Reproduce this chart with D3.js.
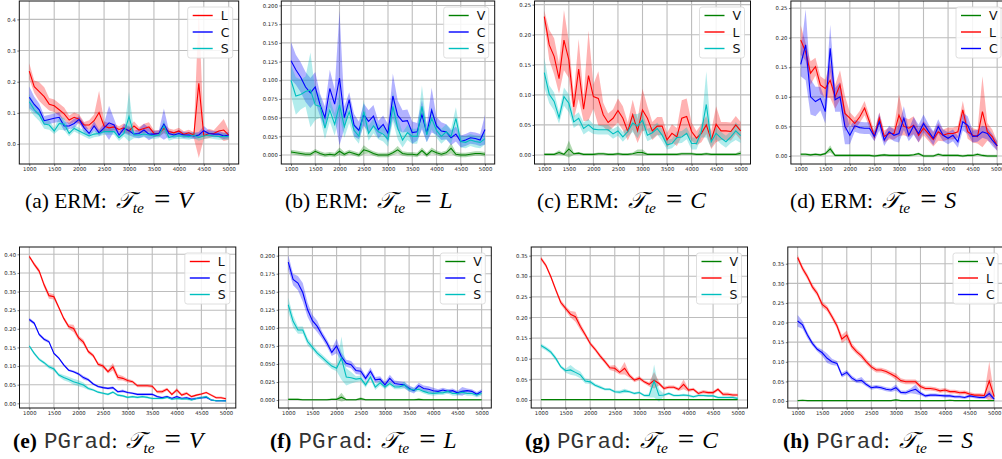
<!DOCTYPE html>
<html>
<head>
<meta charset="utf-8">
<script src="https://cdn.jsdelivr.net/npm/d3@7"></script>
<style>
  body { margin: 0; background: #fff; }
  svg { display: block; }
</style>
</head>
<body>
<svg width="1002" height="459"></svg>
<script>
"use strict";

// number of training samples (x axis), one entry per evaluation
const sizes = [1000, 1100, 1200, 1300, 1400, 1500, 1600, 1700, 1800, 1900, 2000, 2100, 2200, 2300, 2400, 2500, 2600, 2700, 2800, 2900,
    3000, 3100, 3200, 3300, 3400, 3500, 3600, 3700, 3800, 3900, 4000, 4100, 4200, 4300, 4400, 4500, 4600, 4700, 4800, 4900, 5000];
const xTicks = [1000, 1500, 2000, 2500, 3000, 3500, 4000, 4500, 5000];

// (a) ERM, test domain V
const aL = [0.234,0.184,0.168,0.152,0.128,0.123,0.110,0.097,0.077,0.086, 0.080,0.061,0.061,0.075,0.101,0.058,0.052,0.055,0.047,0.052,
    0.042,0.058,0.045,0.050,0.055,0.034,0.034,0.050,0.040,0.036, 0.042,0.031,0.036,0.029,0.195,0.026,0.034,0.034,0.042,0.045,0.029];
const aLsd = [0.025,0.02,0.03,0.03,0.02,0.02,0.02,0.02,0.015,0.015, 0.015,0.01,0.015,0.02,0.07,0.015,0.015,0.01,0.01,0.015,
    0.01,0.015,0.01,0.015,0.015,0.01,0.01,0.015,0.01,0.01, 0.01,0.01,0.01,0.01,0.24,0.01,0.015,0.01,0.02,0.035,0.015];
const aC = [0.150,0.127,0.110,0.075,0.079,0.083,0.086,0.058,0.058,0.066, 0.079,0.052,0.034,0.058,0.036,0.052,0.068,0.061,0.029,0.050,
    0.043,0.032,0.034,0.045,0.032,0.032,0.034,0.064,0.034,0.029, 0.034,0.029,0.029,0.026,0.029,0.043,0.034,0.032,0.032,0.026,0.029];
const aCsd = [0.035,0.025,0.02,0.015,0.015,0.015,0.015,0.015,0.01,0.015, 0.01,0.015,0.01,0.015,0.01,0.015,0.055,0.02,0.01,0.015,
    0.015,0.01,0.015,0.02,0.02,0.01,0.01,0.05,0.01,0.01, 0.01,0.01,0.01,0.01,0.01,0.015,0.01,0.01,0.01,0.01,0.01];
const aS = [0.136,0.110,0.094,0.064,0.061,0.042,0.066,0.064,0.034,0.050, 0.042,0.034,0.026,0.032,0.034,0.040,0.040,0.040,0.020,0.034,
    0.088,0.029,0.029,0.032,0.029,0.026,0.029,0.058,0.021,0.026, 0.026,0.026,0.024,0.029,0.021,0.026,0.029,0.026,0.024,0.024,0.024];
const aSsd = [0.025,0.02,0.02,0.015,0.015,0.01,0.02,0.02,0.01,0.01, 0.01,0.01,0.01,0.01,0.01,0.01,0.01,0.01,0.01,0.01,
    0.08,0.01,0.01,0.01,0.01,0.01,0.01,0.02,0.01,0.01, 0.01,0.01,0.01,0.01,0.01,0.01,0.01,0.01,0.01,0.01,0.01];

// (b) ERM, test domain L
const bV = [0.004,0.003,0.002,0.001,0.001,0.005,0.002,0.000,0.001,0.000, 0.005,0.001,0.004,0.002,0.000,0.007,0.005,0.002,0.000,0.000,
    0.000,0.003,0.007,0.002,0.001,0.001,0.000,0.006,0.000,0.006, 0.003,0.001,0.003,0.009,0.001,0.000,0.000,0.001,0.002,0.002,0.001];
const bVsd = [0.003,0.003,0.003,0.003,0.003,0.003,0.003,0.003,0.003,0.003, 0.005,0.003,0.003,0.003,0.003,0.006,0.003,0.003,0.003,0.003,
    0.003,0.003,0.005,0.003,0.003,0.003,0.003,0.004,0.003,0.004, 0.003,0.003,0.003,0.007,0.003,0.003,0.003,0.003,0.003,0.003,0.003];
const bC = [0.126,0.114,0.104,0.091,0.083,0.091,0.067,0.050,0.089,0.068, 0.103,0.050,0.074,0.040,0.033,0.054,0.045,0.052,0.034,0.041,
    0.029,0.079,0.053,0.045,0.046,0.030,0.031,0.054,0.029,0.060, 0.039,0.032,0.031,0.023,0.028,0.018,0.020,0.023,0.022,0.020,0.034];
const bCsd = [0.025,0.02,0.02,0.02,0.02,0.02,0.015,0.015,0.025,0.02, 0.09,0.015,0.01,0.015,0.012,0.015,0.015,0.015,0.012,0.012,
    0.012,0.03,0.02,0.015,0.015,0.015,0.012,0.02,0.012,0.03, 0.012,0.012,0.01,0.01,0.01,0.008,0.008,0.008,0.008,0.008,0.02];
const bS = [0.100,0.079,0.081,0.085,0.087,0.067,0.065,0.036,0.060,0.041, 0.067,0.038,0.058,0.033,0.025,0.058,0.029,0.039,0.031,0.028,
    0.021,0.065,0.036,0.020,0.030,0.025,0.025,0.065,0.027,0.049, 0.033,0.025,0.031,0.025,0.049,0.018,0.017,0.020,0.018,0.017,0.022];
const bSsd = [0.02,0.025,0.02,0.02,0.05,0.02,0.015,0.015,0.015,0.015, 0.015,0.015,0.015,0.01,0.01,0.015,0.01,0.01,0.01,0.01,
    0.01,0.02,0.015,0.01,0.01,0.01,0.01,0.028,0.01,0.015, 0.01,0.01,0.01,0.01,0.015,0.008,0.008,0.008,0.008,0.008,0.008];

// (c) ERM, test domain C
const cV = [0.001,0.001,0.001,0.004,0.001,0.010,0.002,0.003,0.001,0.001, 0.001,0.002,0.002,0.001,0.001,0.002,0.001,0.001,0.002,0.004,
    0.004,0.001,0.001,0.001,0.001,0.001,0.001,0.001,0.002,0.002, 0.002,0.001,0.001,0.002,0.001,0.001,0.001,0.001,0.001,0.001,0.003];
const cVsd = [0.002,0.002,0.002,0.004,0.002,0.014,0.002,0.002,0.002,0.002, 0.002,0.002,0.002,0.002,0.002,0.002,0.002,0.002,0.002,0.005,
    0.005,0.002,0.002,0.002,0.002,0.002,0.002,0.002,0.002,0.002, 0.002,0.002,0.002,0.002,0.002,0.002,0.002,0.002,0.002,0.002,0.004];
const cL = [0.230,0.183,0.164,0.127,0.191,0.158,0.080,0.143,0.076,0.132, 0.097,0.094,0.067,0.054,0.061,0.074,0.061,0.039,0.067,0.040,
    0.075,0.061,0.040,0.048,0.048,0.025,0.036,0.030,0.061,0.064, 0.039,0.028,0.036,0.050,0.025,0.051,0.040,0.040,0.039,0.050,0.040];
const cLsd = [0.01,0.025,0.03,0.025,0.05,0.03,0.02,0.05,0.02,0.075, 0.02,0.045,0.02,0.015,0.015,0.02,0.02,0.015,0.025,0.02,
    0.035,0.02,0.015,0.015,0.015,0.012,0.015,0.015,0.03,0.03, 0.015,0.012,0.015,0.015,0.015,0.03,0.015,0.015,0.015,0.015,0.015];
const cS = [0.137,0.101,0.089,0.062,0.097,0.086,0.055,0.061,0.044,0.050, 0.043,0.042,0.042,0.042,0.035,0.040,0.030,0.039,0.053,0.048,
    0.058,0.033,0.037,0.044,0.033,0.017,0.019,0.029,0.030,0.036, 0.019,0.019,0.039,0.084,0.022,0.036,0.028,0.022,0.030,0.040,0.032];
const cSsd = [0.025,0.015,0.015,0.01,0.015,0.015,0.01,0.01,0.01,0.01, 0.008,0.008,0.008,0.008,0.008,0.008,0.008,0.008,0.015,0.02,
    0.015,0.01,0.01,0.01,0.01,0.008,0.008,0.01,0.01,0.01, 0.01,0.01,0.01,0.055,0.01,0.01,0.01,0.01,0.01,0.015,0.012];

// (d) ERM, test domain S
const dV = [0.003,0.003,0.002,0.003,0.002,0.004,0.012,0.001,0.001,0.001, 0.001,0.001,0.001,0.001,0.001,0.000,0.001,0.002,0.001,0.001,
    0.001,0.001,0.001,0.002,0.004,0.000,0.000,0.000,0.003,0.001, 0.001,0.001,0.001,0.000,0.001,0.001,0.003,0.001,0.000,0.000,0.000];
const dVsd = [0.002,0.002,0.002,0.002,0.002,0.002,0.006,0.002,0.002,0.002, 0.002,0.002,0.002,0.002,0.002,0.002,0.002,0.002,0.002,0.002,
    0.002,0.002,0.002,0.002,0.002,0.002,0.002,0.002,0.002,0.002, 0.002,0.002,0.002,0.002,0.002,0.002,0.002,0.002,0.002,0.002,0.002];
const dL = [0.196,0.176,0.140,0.151,0.120,0.114,0.128,0.100,0.120,0.072, 0.064,0.055,0.066,0.081,0.058,0.033,0.064,0.033,0.038,0.038,
    0.069,0.050,0.047,0.052,0.035,0.047,0.038,0.028,0.041,0.035, 0.038,0.038,0.041,0.078,0.041,0.035,0.033,0.075,0.041,0.033,0.017];
const dLsd = [0.025,0.015,0.02,0.015,0.015,0.015,0.03,0.02,0.025,0.03, 0.01,0.01,0.01,0.012,0.01,0.008,0.01,0.01,0.01,0.01,
    0.035,0.015,0.015,0.015,0.012,0.012,0.012,0.012,0.015,0.01, 0.01,0.01,0.01,0.015,0.012,0.012,0.012,0.06,0.015,0.012,0.008];
const dC = [0.155,0.188,0.100,0.092,0.097,0.075,0.182,0.095,0.100,0.050, 0.035,0.051,0.048,0.047,0.047,0.033,0.058,0.027,0.041,0.035,
    0.038,0.064,0.035,0.051,0.038,0.055,0.042,0.030,0.050,0.035, 0.030,0.035,0.024,0.058,0.052,0.033,0.034,0.041,0.038,0.027,0.017];
const dCsd = [0.02,0.06,0.03,0.025,0.02,0.02,0.04,0.02,0.025,0.03, 0.015,0.01,0.01,0.01,0.01,0.008,0.015,0.01,0.01,0.01,
    0.015,0.02,0.01,0.015,0.015,0.015,0.012,0.012,0.012,0.01, 0.01,0.01,0.01,0.015,0.015,0.01,0.01,0.01,0.01,0.01,0.008];

// (e) PGrad, test domain V
const eL = [0.394,0.373,0.355,0.318,0.289,0.286,0.257,0.228,0.206,0.201, 0.176,0.164,0.139,0.128,0.105,0.100,0.085,0.098,0.070,0.067,
    0.061,0.058,0.047,0.047,0.047,0.046,0.031,0.031,0.038,0.024, 0.036,0.022,0.027,0.018,0.022,0.025,0.029,0.022,0.015,0.015,0.012];
const eLsd = [0.004,0.005,0.006,0.007,0.008,0.007,0.005,0.005,0.006,0.01, 0.006,0.007,0.005,0.005,0.005,0.005,0.005,0.01,0.008,0.006,
    0.005,0.004,0.004,0.004,0.004,0.004,0.004,0.005,0.004,0.004, 0.005,0.004,0.004,0.003,0.003,0.003,0.003,0.003,0.003,0.003,0.003];
const eC = [0.225,0.215,0.185,0.172,0.165,0.134,0.121,0.103,0.089,0.085, 0.079,0.069,0.063,0.052,0.045,0.042,0.040,0.042,0.031,0.033,
    0.029,0.027,0.024,0.024,0.024,0.024,0.018,0.015,0.018,0.013, 0.018,0.013,0.015,0.011,0.013,0.015,0.016,0.009,0.007,0.007,0.007];
const eCsd = [0.005,0.004,0.004,0.004,0.004,0.003,0.003,0.003,0.003,0.003, 0.004,0.005,0.004,0.003,0.003,0.003,0.003,0.004,0.003,0.004,
    0.003,0.003,0.003,0.003,0.003,0.003,0.003,0.003,0.003,0.003, 0.003,0.003,0.003,0.003,0.003,0.003,0.003,0.002,0.002,0.002,0.002];
const eS = [0.154,0.134,0.118,0.109,0.098,0.092,0.076,0.069,0.064,0.058, 0.054,0.049,0.040,0.036,0.030,0.027,0.024,0.030,0.022,0.020,
    0.016,0.018,0.016,0.018,0.016,0.013,0.013,0.013,0.016,0.011, 0.013,0.012,0.012,0.009,0.013,0.015,0.018,0.009,0.007,0.007,0.006];
const eSsd = [0.004,0.004,0.004,0.004,0.005,0.005,0.005,0.007,0.007,0.008, 0.008,0.007,0.004,0.003,0.003,0.003,0.003,0.003,0.003,0.003,
    0.003,0.003,0.003,0.003,0.003,0.003,0.003,0.003,0.003,0.003, 0.003,0.003,0.003,0.003,0.003,0.003,0.003,0.002,0.002,0.002,0.002];

// (f) PGrad, test domain L
const fV = [0.001,0.001,0.001,0.0005,0.0005,0.0005,0.0005,0.0005,0.0005,0.001, 0.001,0.004,0.0005,0.0005,0.0005,0.002,0.0005,0.0005,0.0005,0.0005,
    0.0005,0.0005,0.0005,0.0005,0.0005,0.0005,0.0005,0.001,0.0005,0.0005, 0.0005,0.0005,0.0005,0.0005,0.0005,0.0005,0.0005,0.0005,0.0005,0.0005,0.0005];
const fVsd = [0.001,0.001,0.001,0.001,0.001,0.001,0.001,0.001,0.001,0.001, 0.001,0.006,0.001,0.001,0.001,0.002,0.001,0.001,0.001,0.001,
    0.001,0.001,0.001,0.001,0.001,0.001,0.001,0.001,0.001,0.001, 0.001,0.001,0.001,0.001,0.001,0.001,0.001,0.001,0.001,0.001,0.001];
const fC = [0.191,0.167,0.162,0.149,0.125,0.110,0.102,0.090,0.079,0.066, 0.075,0.060,0.051,0.049,0.041,0.040,0.030,0.040,0.028,0.029,
    0.021,0.030,0.023,0.022,0.021,0.016,0.013,0.020,0.016,0.015, 0.013,0.012,0.014,0.012,0.013,0.010,0.012,0.013,0.012,0.008,0.012];
const fCsd = [0.01,0.008,0.01,0.013,0.01,0.008,0.008,0.005,0.005,0.005, 0.01,0.006,0.005,0.005,0.005,0.005,0.004,0.005,0.004,0.004,
    0.004,0.005,0.004,0.004,0.004,0.004,0.004,0.004,0.004,0.004, 0.004,0.003,0.003,0.003,0.003,0.003,0.006,0.003,0.003,0.003,0.003];
const fS = [0.132,0.109,0.097,0.097,0.081,0.073,0.065,0.059,0.053,0.047, 0.044,0.058,0.032,0.031,0.029,0.030,0.021,0.032,0.018,0.024,
    0.018,0.023,0.018,0.018,0.021,0.015,0.014,0.015,0.012,0.010, 0.009,0.010,0.010,0.012,0.009,0.009,0.011,0.009,0.009,0.007,0.009];
const fSsd = [0.01,0.008,0.005,0.005,0.005,0.004,0.004,0.004,0.004,0.004, 0.004,0.03,0.012,0.008,0.004,0.004,0.004,0.004,0.004,0.004,
    0.003,0.003,0.003,0.003,0.005,0.003,0.003,0.003,0.003,0.003, 0.003,0.003,0.003,0.003,0.003,0.003,0.003,0.003,0.003,0.003,0.003];

// (g) PGrad, test domain C
const gV = [0.001,0.001,0.001,0.001,0.001,0.001,0.001,0.001,0.001,0.001, 0.001,0.001,0.001,0.001,0.001,0.001,0.001,0.001,0.001,0.001,
    0.001,0.001,0.001,0.001,0.001,0.001,0.001,0.001,0.001,0.001, 0.001,0.001,0.001,0.001,0.001,0.001,0.001,0.001,0.001,0.001,0.001];
const gVsd = [0.001,0.001,0.001,0.001,0.001,0.001,0.001,0.001,0.001,0.001, 0.001,0.001,0.001,0.001,0.001,0.001,0.001,0.001,0.001,0.001,
    0.001,0.001,0.001,0.001,0.001,0.001,0.001,0.001,0.001,0.001, 0.001,0.001,0.001,0.001,0.001,0.001,0.001,0.001,0.001,0.001,0.001];
const gL = [0.343,0.326,0.299,0.267,0.237,0.222,0.208,0.202,0.178,0.158, 0.137,0.123,0.107,0.093,0.078,0.077,0.067,0.077,0.059,0.048,
    0.053,0.044,0.038,0.048,0.040,0.028,0.031,0.031,0.026,0.038, 0.024,0.026,0.016,0.020,0.018,0.018,0.026,0.014,0.014,0.012,0.012];
const gLsd = [0.005,0.005,0.005,0.006,0.006,0.006,0.008,0.012,0.008,0.006, 0.005,0.005,0.005,0.005,0.005,0.008,0.005,0.015,0.005,0.005,
    0.005,0.004,0.005,0.02,0.005,0.004,0.004,0.004,0.004,0.012, 0.004,0.004,0.004,0.004,0.004,0.004,0.004,0.004,0.004,0.004,0.003];
const gS = [0.132,0.125,0.116,0.101,0.081,0.071,0.073,0.067,0.061,0.046, 0.044,0.036,0.031,0.026,0.026,0.020,0.019,0.022,0.020,0.016,
    0.018,0.011,0.011,0.046,0.011,0.012,0.016,0.011,0.011,0.012, 0.011,0.008,0.011,0.011,0.010,0.010,0.006,0.006,0.006,0.006,0.004];
const gSsd = [0.005,0.005,0.005,0.005,0.004,0.005,0.012,0.008,0.008,0.006, 0.005,0.004,0.004,0.003,0.003,0.003,0.004,0.005,0.003,0.003,
    0.003,0.003,0.005,0.04,0.015,0.003,0.003,0.003,0.003,0.003, 0.003,0.003,0.003,0.003,0.003,0.003,0.003,0.003,0.003,0.003,0.002];

// (h) PGrad, test domain S
const hV = [0.001,0.002,0.001,0.001,0.001,0.001,0.001,0.001,0.001,0.001, 0.001,0.001,0.001,0.001,0.001,0.001,0.001,0.001,0.001,0.001,
    0.003,0.001,0.001,0.001,0.001,0.001,0.001,0.001,0.001,0.001, 0.001,0.002,0.001,0.001,0.001,0.001,0.001,0.001,0.001,0.001,0.001];
const hVsd = [0.001,0.001,0.001,0.001,0.001,0.001,0.001,0.001,0.001,0.001, 0.001,0.001,0.001,0.001,0.001,0.001,0.001,0.001,0.001,0.001,
    0.002,0.001,0.001,0.001,0.001,0.001,0.001,0.001,0.001,0.001, 0.001,0.001,0.001,0.001,0.001,0.001,0.001,0.001,0.001,0.001,0.001];
const hL = [0.366,0.338,0.317,0.291,0.274,0.246,0.236,0.215,0.192,0.158, 0.168,0.140,0.126,0.115,0.100,0.087,0.079,0.079,0.075,0.069,
    0.062,0.052,0.049,0.049,0.049,0.037,0.032,0.032,0.030,0.026, 0.028,0.024,0.024,0.021,0.022,0.018,0.015,0.015,0.014,0.051,0.011];
const hLsd = [0.007,0.007,0.007,0.007,0.007,0.007,0.007,0.007,0.008,0.01, 0.012,0.008,0.007,0.007,0.007,0.006,0.006,0.006,0.006,0.006,
    0.008,0.006,0.006,0.006,0.006,0.006,0.005,0.005,0.005,0.005, 0.005,0.005,0.005,0.005,0.005,0.005,0.005,0.005,0.005,0.05,0.005];
const hC = [0.204,0.194,0.168,0.147,0.132,0.123,0.109,0.100,0.096,0.066, 0.073,0.059,0.051,0.053,0.042,0.034,0.036,0.034,0.030,0.028,
    0.034,0.022,0.021,0.026,0.030,0.020,0.013,0.015,0.015,0.014, 0.013,0.013,0.011,0.011,0.009,0.013,0.011,0.009,0.009,0.019,0.005];
const hCsd = [0.015,0.01,0.008,0.006,0.006,0.008,0.012,0.008,0.006,0.006, 0.006,0.006,0.005,0.008,0.005,0.005,0.005,0.005,0.005,0.005,
    0.008,0.005,0.005,0.006,0.012,0.005,0.004,0.004,0.004,0.004, 0.004,0.004,0.004,0.004,0.004,0.004,0.004,0.004,0.004,0.008,0.004];

const COLORS = { V: "#008000", L: "#ff0000", C: "#0000ff", S: "#00bfbf" };

// panel layout: pixel box + y domain + ticks
const panels = [
    { id: "a", method: "ERM", test: "V", box: [19.3, 238.7, 1, 164], y: [-0.064, 0.459], yt: [0, 0.1, 0.2, 0.3, 0.4], fmt: ".1f",
      series: [["L", aL, aLsd], ["C", aC, aCsd], ["S", aS, aSsd]], cap: [25, 208] },
    { id: "b", method: "ERM", test: "L", box: [281.3, 494.7, 1, 164], y: [-0.012, 0.206], yt: d3.range(0, 0.201, 0.025), fmt: ".3f",
      series: [["V", bV, bVsd], ["C", bC, bCsd], ["S", bS, bSsd]], cap: [285, 208] },
    { id: "c", method: "ERM", test: "C", box: [534.5, 750.5, 1, 164], y: [-0.015, 0.256], yt: d3.range(0, 0.251, 0.05), fmt: ".2f",
      series: [["V", cV, cVsd], ["L", cL, cLsd], ["S", cS, cSsd]], cap: [537, 208] },
    { id: "d", method: "ERM", test: "S", box: [790.9, 1007, 1, 164], y: [-0.0135, 0.262], yt: d3.range(0, 0.251, 0.05), fmt: ".2f",
      series: [["V", dV, dVsd], ["L", dL, dLsd], ["C", dC, dCsd]], cap: [790, 208] },
    { id: "e", method: "PGrad", test: "V", box: [19.5, 235.8, 247, 408], y: [-0.0126, 0.4196], yt: d3.range(0, 0.401, 0.05), fmt: ".2f",
      series: [["L", eL, eLsd], ["C", eC, eCsd], ["S", eS, eSsd]], cap: [13, 448] },
    { id: "f", method: "PGrad", test: "L", box: [278.6, 491.3, 247, 408], y: [-0.011, 0.212], yt: d3.range(0, 0.201, 0.025), fmt: ".3f",
      series: [["V", fV, fVsd], ["C", fC, fCsd], ["S", fS, fSsd]], cap: [270, 448] },
    { id: "g", method: "PGrad", test: "C", box: [531.2, 747.5, 247, 408], y: [-0.0194, 0.371], yt: d3.range(0, 0.351, 0.05), fmt: ".2f",
      series: [["V", gV, gVsd], ["L", gL, gLsd], ["S", gS, gSsd]], cap: [525, 448] },
    { id: "h", method: "PGrad", test: "S", box: [787.8, 1004, 247, 408], y: [-0.0178, 0.3926], yt: d3.range(0, 0.351, 0.05), fmt: ".2f",
      series: [["V", hV, hVsd], ["L", hL, hLsd], ["C", hC, hCsd]], cap: [783, 448] }
];

const svg = d3.select("svg");
const defs = svg.append("defs");

panels.forEach(p => {
    const [x0, x1, top, bottom] = p.box;
    const x = d3.scaleLinear().domain([800, 5200]).range([x0, x1]);
    const y = d3.scaleLinear().domain(p.y).range([bottom, top]);
    const g = svg.append("g");

    defs.append("clipPath").attr("id", "clip-" + p.id)
        .append("rect").attr("x", x0).attr("y", top).attr("width", x1 - x0).attr("height", bottom - top);

    // grid
    g.append("g").selectAll("line").data(xTicks).join("line")
        .attr("x1", d => x(d)).attr("x2", d => x(d)).attr("y1", top).attr("y2", bottom)
        .attr("stroke", "#bdbdbd").attr("stroke-width", 1.1);
    g.append("g").selectAll("line").data(p.yt).join("line")
        .attr("x1", x0).attr("x2", x1).attr("y1", d => y(d)).attr("y2", d => y(d))
        .attr("stroke", "#bdbdbd").attr("stroke-width", 1.1);

    // bands and lines
    const plot = g.append("g").attr("clip-path", "url(#clip-" + p.id + ")");
    p.series.forEach(([name, mean, sd]) => {
        const area = d3.area()
            .x((d, i) => x(sizes[i]))
            .y0((d, i) => y(mean[i] - sd[i]))
            .y1((d, i) => y(mean[i] + sd[i]));
        plot.append("path").datum(mean).attr("d", area)
            .attr("fill", COLORS[name]).attr("fill-opacity", 0.3);
    });
    p.series.forEach(([name, mean]) => {
        const line = d3.line().x((d, i) => x(sizes[i])).y(d => y(d));
        plot.append("path").datum(mean).attr("d", line)
            .attr("fill", "none").attr("stroke", COLORS[name]).attr("stroke-width", 1.1);
    });

    // axes
    const xAxis = d3.axisBottom(x).tickValues(xTicks).tickSize(2).tickPadding(1.5).tickFormat(d3.format("d"));
    const yAxis = d3.axisLeft(y).tickValues(p.yt).tickSize(2).tickPadding(1.5).tickFormat(d3.format(p.fmt));
    const gx = g.append("g").attr("transform", `translate(0,${bottom})`).call(xAxis);
    const gy = g.append("g").attr("transform", `translate(${x0},0)`).call(yAxis);
    [gx, gy].forEach(a => {
        a.select(".domain").remove();
        a.selectAll("text").attr("font-family", "DejaVu Sans").attr("font-size", 5.3).attr("fill", "#222");
        a.selectAll("line").attr("stroke", "#222").attr("stroke-width", 0.6);
    });

    g.append("rect").attr("x", x0).attr("y", top).attr("width", x1 - x0).attr("height", bottom - top)
        .attr("fill", "none").attr("stroke", "#111").attr("stroke-width", 1);

    // legend
    const lw = 45, lh = 51;
    const lx = x1 - 6 - lw, ly = top + 6;
    const lg = g.append("g").attr("transform", `translate(${lx},${ly})`);
    lg.append("rect").attr("width", lw).attr("height", lh).attr("rx", 2.5)
        .attr("fill", "#fff").attr("fill-opacity", 0.85).attr("stroke", "#d6d6d6").attr("stroke-width", 0.8);
    p.series.forEach(([name], i) => {
        const ry = 8.5 + i * 16.5;
        lg.append("line").attr("x1", 5).attr("x2", 25).attr("y1", ry).attr("y2", ry)
            .attr("stroke", COLORS[name]).attr("stroke-width", 1.4);
        lg.append("text").attr("x", 33).attr("y", ry + 4.5).text(name)
            .attr("font-family", "DejaVu Sans").attr("font-size", 12.5).attr("fill", "#111");
    });

    // caption
    const cap = svg.append("text").attr("x", p.cap[0]).attr("y", p.cap[1])
        .attr("font-family", "Liberation Serif").attr("font-size", 21.5).attr("fill", "#000");
    if (p.method === "ERM") {
        cap.append("tspan").text(`(${p.id}) ERM:`);
    } else {
        cap.append("tspan").text(`(${p.id})`).attr("font-weight", "bold");
        cap.append("tspan").text("PGrad").attr("dx", 7).attr("font-family", "Liberation Mono").attr("font-size", 22.5).attr("fill", "#333");
        cap.append("tspan").text(":");
    }
    cap.append("tspan").text("\u{1D4AF}").attr("dx", 9).attr("font-family", "DejaVu Serif, Noto Sans, serif")
        .attr("font-style", "italic").attr("font-size", 23);
    cap.append("tspan").text("te").attr("font-style", "italic").attr("font-size", 15.5).attr("dy", 4.5).attr("dx", -1);
    cap.append("tspan").text("=").attr("dy", -3.5).attr("dx", 10).attr("font-size", 29);
    cap.append("tspan").text(p.test).attr("dy", -1).attr("dx", 8).attr("font-style", "italic").attr("font-size", 23.5);
});
</script>
</body>
</html>
